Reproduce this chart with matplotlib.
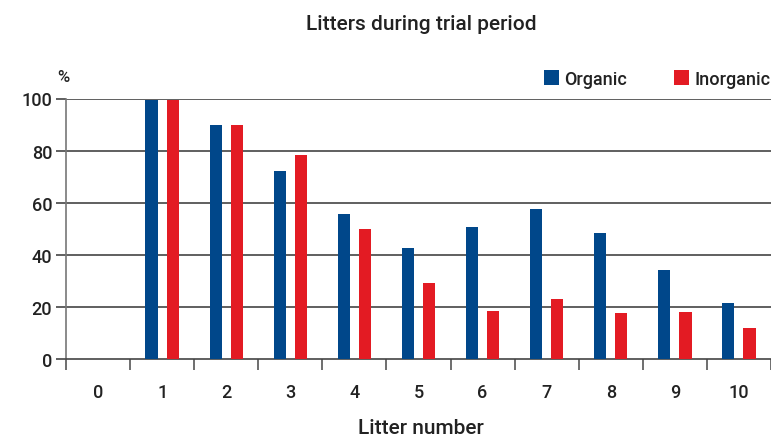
import numpy as np
import matplotlib
matplotlib.use("Agg")
import matplotlib.pyplot as plt

plt.rcParams['font.family'] = ['Roboto', 'DejaVu Sans']

litters = [0, 1, 2, 3, 4, 5, 6, 7, 8, 9, 10]
organic = [0, 99.5, 90, 72, 55.5, 42.5, 50.5, 57.5, 48.5, 34, 21.5]
inorganic = [0, 99.5, 90, 78.5, 50, 29, 18.5, 23, 17.5, 18, 12]

blue = "#00478a"
red = "#e31b23"
txt = "#222222"

fig = plt.figure(figsize=(7.71, 4.39), dpi=100)
ax = fig.add_axes([66 / 771, 1 - 360 / 439, 1 - 66 / 771, (360 - 99.5) / 439])

x = np.array(litters)
w = 0.19
ax.bar(x - 0.165, organic, w, color=blue, label="Organic", zorder=3)
ax.bar(x + 0.165, inorganic, w, color=red, label="Inorganic", zorder=3)

ax.set_xlim(-0.5, 10.5)
ax.set_ylim(0, 100)

# grid
for v in [20, 40, 60, 80, 100]:
    ax.axhline(v, color="#444444", lw=1.2, zorder=1)

ax.set_yticks([0, 20, 40, 60, 80, 100])
ax.tick_params(axis="y", length=7, width=1.2, color="#444444", labelsize=13,
               labelcolor=txt, pad=3)
for t in ax.get_yticklabels():
    t.set_fontweight("medium")

# category boundaries as ticks, labels at centers
ax.set_xticks(np.arange(-0.5, 11, 1))
ax.set_xticklabels([])
ax.set_xticks(x, minor=True)
ax.set_xticklabels([str(v) for v in litters], minor=True, fontweight="medium")
ax.tick_params(axis="x", which="major", length=8, width=1.2, color="#555555", direction="out")
ax.tick_params(axis="x", which="minor", length=0, labelsize=13, labelcolor=txt, pad=17)

for s in ["top", "right"]:
    ax.spines[s].set_visible(False)
ax.spines["left"].set_color("#777777")
ax.spines["left"].set_linewidth(1.2)
ax.spines["bottom"].set_color("#444444")
ax.spines["bottom"].set_linewidth(1.2)

fig.text(421 / 771, 1 - 24 / 439, "Litters during trial period", ha="center", va="center",
         fontsize=15, color=txt, fontweight="medium")
fig.text(421 / 771, 1 - 429 / 439, "Litter number", ha="center", va="center",
         fontsize=15, color=txt, fontweight="medium")
fig.text(63 / 771, 1 - 78 / 439, "%", ha="center", va="center", fontsize=12,
         color=txt, fontweight="medium")

leg = ax.legend(loc="lower right", bbox_to_anchor=(1.015, 1.0), ncol=2, frameon=False,
                prop={"size": 13, "weight": "medium"}, handlelength=0.85, handleheight=0.85,
                handletextpad=0.3, columnspacing=2.6, borderaxespad=0.2, labelcolor=txt)

fig.savefig("out.png", dpi=100)
